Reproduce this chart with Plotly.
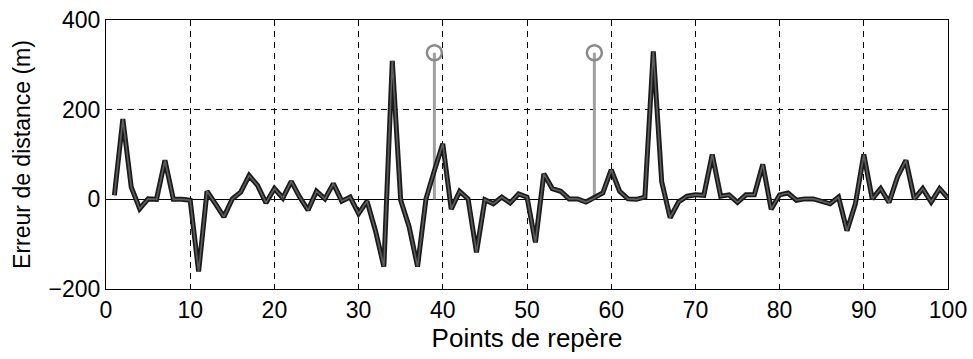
import plotly.graph_objects as go

# Distance error at each landmark point
points = list(range(1, 101))
errors = [
    9, 179, 27, -21, 1, 0, 87, 0, 0, -2,
    -161, 18, -10, -39, 1, 16, 53, 31, -8, 24,
    3, 40, 5, -24, 18, 1, 35, -4, 5, -32,
    -4, -70, -150, 309, -2, -61, -150, 1, 64, 124,
    -22, 18, 1, -118, -1, -10, 5, -8, 12, 5,
    -96, 57, 24, 18, 1, 1, -6, 3, 14, 66,
    18, 1, 0, 5, 330, 39, -41, -6, 7, 10,
    9, 100, 7, 10, -7, 10, 10, 78, -22, 10,
    14, -2, 1, 1, -4, -10, 5, -70, -10, 100,
    1, 24, -7, 50, 87, 1, 24, -6, 24, 3,
]

# Highlighted landmarks (stem markers)
stem_points = [39, 58]
stem_values = [327, 327]

x_ticks = [0, 10, 20, 30, 40, 50, 60, 70, 80, 90, 100]
y_ticks = [-200, 0, 200, 400]

font_family = "Liberation Sans, Arial, sans-serif"

fig = go.Figure()

# Stems
for px, pv in zip(stem_points, stem_values):
    fig.add_trace(go.Scatter(
        x=[px, px], y=[0, pv], mode="lines",
        line=dict(color="#a0a0a0", width=3),
        showlegend=False, hoverinfo="skip",
    ))
fig.add_trace(go.Scatter(
    x=stem_points, y=stem_values, mode="markers",
    marker=dict(symbol="circle-open", size=15, color="#8a8a8a",
                line=dict(width=2.5, color="#8a8a8a")),
    showlegend=False,
))

# Error curve: dark outline with lighter core
fig.add_trace(go.Scatter(
    x=points, y=errors, mode="lines",
    line=dict(color="#1a1a1a", width=5),
    showlegend=False,
))
fig.add_trace(go.Scatter(
    x=points, y=errors, mode="lines",
    line=dict(color="#5e5e5e", width=1.6),
    showlegend=False, hoverinfo="skip",
))

axis_common = dict(
    showline=True, linecolor="black", linewidth=1, mirror=True,
    ticks="inside", ticklen=4, tickcolor="black",
    showgrid=True, gridcolor="black", gridwidth=1, griddash="6px,5px",
    tickfont=dict(family=font_family, size=23, color="black"),
    automargin=False,
)

fig.update_xaxes(
    range=[0, 100], tickvals=x_ticks, zeroline=False,
    title=dict(text="Points de repère",
               font=dict(family=font_family, size=26, color="black"),
               standoff=7),
    **axis_common,
)
fig.update_yaxes(
    range=[-200, 400], tickvals=y_ticks,
    zeroline=True, zerolinecolor="black", zerolinewidth=1.2,
    title=dict(text="Erreur de distance (m)",
               font=dict(family=font_family, size=23, color="black"),
               standoff=11),
    **axis_common,
)

fig.update_layout(
    width=973, height=359,
    margin=dict(l=106, r=25, t=20, b=70),
    plot_bgcolor="white", paper_bgcolor="white",
    showlegend=False,
)

fig.write_html("out.html")
